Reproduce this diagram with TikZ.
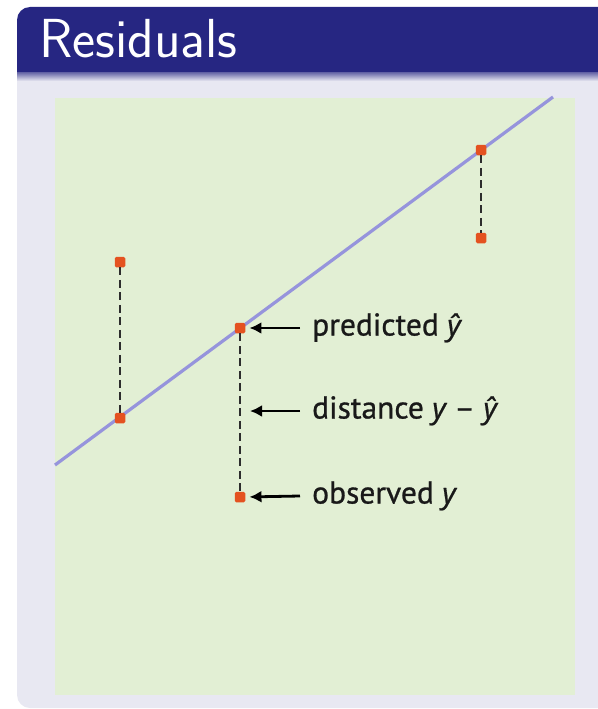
\documentclass[tikz,border=0pt]{standalone}
\usepackage{fontspec}
\newfontfamily\lblfont[FakeBold=0.8]{PT Sans}
\newfontfamily\varfont[FakeBold=0.6]{Noto Sans}
\usetikzlibrary{arrows.meta}
\definecolor{titlebg}{RGB}{38,38,130}
\definecolor{bodybg}{RGB}{232,232,242}
\definecolor{panelbg}{RGB}{226,239,212}
\definecolor{fitline}{RGB}{150,148,220}
\definecolor{ptcol}{RGB}{228,82,32}
\definecolor{dashcol}{RGB}{45,45,45}
\newcommand{\varit}[1]{{\varfont\itshape\fontsize{29}{32}\selectfont #1}}
\tikzset{
  pt/.style={fill=ptcol, draw=none, minimum size=10.5pt, inner sep=0pt, rounded corners=1.5pt},
  resid/.style={draw=dashcol, line width=2.8pt, dash pattern=on 8pt off 4.5pt},
  lbl/.style={font=\lblfont\fontsize{31.5}{34}\selectfont, text=black!90, anchor=west, inner sep=0pt, text height=22pt, text depth=7pt},
  pointer/.style={draw=black, line width=2.8pt, -{Latex[length=12pt,width=12pt]}, shorten >=4pt},
}
\begin{document}
\begin{tikzpicture}[x=1pt,y=-1pt]
\useasboundingbox (0,0) rectangle (597,709);
% block body
\fill[bodybg, rounded corners=13pt] (17,40) rectangle (640,708);
% title bar
\fill[titlebg, rounded corners=13pt] (17,7) rectangle (640,72);
\fill[titlebg] (17,40) rectangle (640,72);
\shade[top color=titlebg!70!bodybg, bottom color=bodybg] (17,72) rectangle (640,81);
\node[anchor=base west, text=white, inner sep=0pt, font=\sffamily\fontsize{55}{58}\selectfont] (title) at (39,58) {Residuals};
% panel
\fill[panelbg] (55,98) rectangle (575,695);
% regression line
\coordinate (la) at (55,465);
\coordinate (lb) at (553,97);
\draw[fitline, line width=3.2pt] (la) -- (lb);
% residual points
\node[pt] (o1) at (120,262) {};
\node[pt] (p1) at (120,418) {};
\node[pt] (p2) at (240,328) {};
\node[pt] (o2) at (240,497) {};
\node[pt] (p3) at (481,150) {};
\node[pt] (o3) at (481,238) {};
\draw[resid] (o1) -- (p1);
\draw[resid] (p2) -- (o2);
\draw[resid] (p3) -- (o3);
% labels
\node[lbl] (lp) at (312,328) {predicted \varit{ŷ}};
\node[lbl] (ld) at (312,411) {distance \varit{y} – \varit{ŷ}};
\node[lbl] (lo) at (312,496) {observed \varit{y}};
\coordinate (dm) at (246,411);
\draw[pointer] ([xshift=-12pt]lp.west) -- (p2.east);
\draw[pointer] ([xshift=-12pt]ld.west) -- (dm);
\draw[pointer] ([xshift=-12pt]lo.west) -- (o2.east);
\end{tikzpicture}
\end{document}
